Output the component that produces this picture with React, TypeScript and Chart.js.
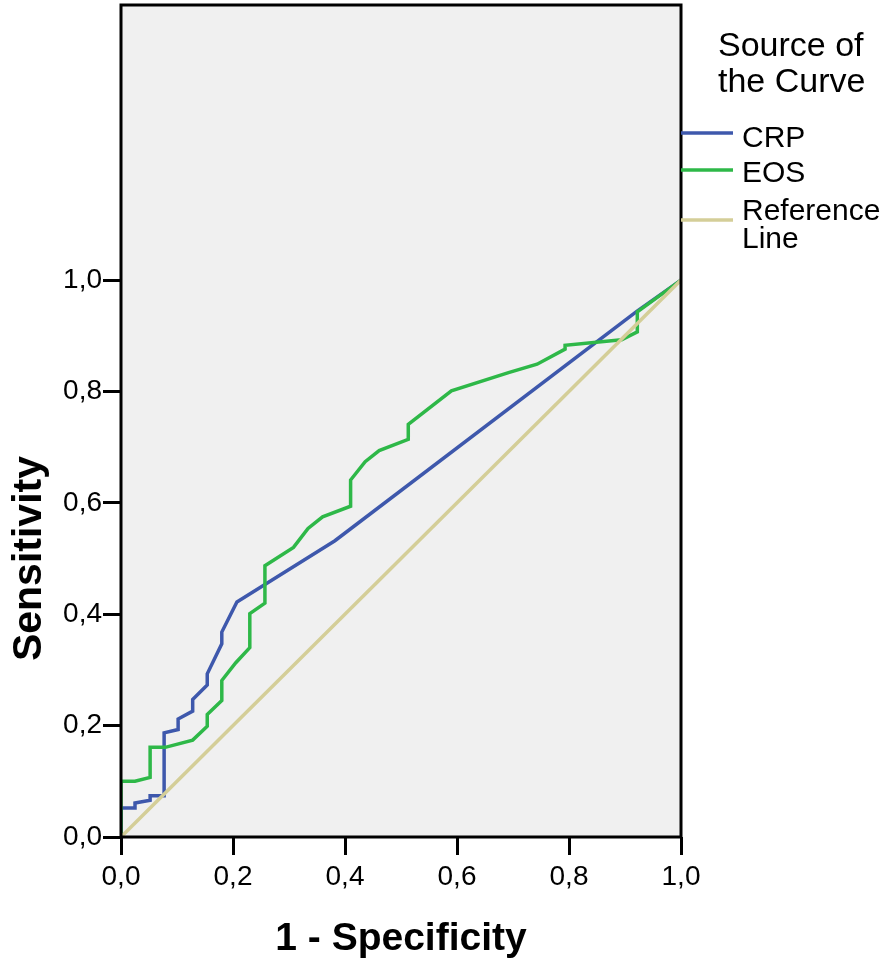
import React, { useEffect, useRef } from "react";
import { Chart, registerables } from "chart.js";

Chart.register(...registerables);

// ---- data ----
const crpX = [0, 0, 0.025, 0.025, 0.052, 0.052, 0.077, 0.077, 0.102, 0.102, 0.128, 0.128, 0.154, 0.154, 0.18, 0.18, 0.207, 0.382, 0.921, 1];
const crpY = [0, 0.052, 0.052, 0.061, 0.066, 0.074, 0.074, 0.187, 0.193, 0.212, 0.226, 0.247, 0.273, 0.293, 0.347, 0.368, 0.422, 0.532, 0.944, 1];

const eosX = [0, 0, 0.025, 0.052, 0.052, 0.079, 0.128, 0.154, 0.154, 0.18, 0.18, 0.205, 0.23, 0.23, 0.257, 0.257, 0.308, 0.334, 0.36, 0.41, 0.41, 0.436, 0.461, 0.513, 0.513, 0.59, 0.692, 0.743, 0.793, 0.793, 0.894, 0.922, 0.922, 1];
const eosY = [0, 0.1, 0.1, 0.107, 0.161, 0.161, 0.174, 0.199, 0.22, 0.245, 0.281, 0.313, 0.34, 0.401, 0.42, 0.487, 0.52, 0.554, 0.575, 0.594, 0.641, 0.674, 0.694, 0.714, 0.741, 0.801, 0.834, 0.849, 0.876, 0.883, 0.893, 0.907, 0.943, 1];

const refX = [0, 1];
const refY = [0, 1];

const tickValues = [0, 0.2, 0.4, 0.6, 0.8, 1.0];
const seriesNames = ["CRP", "EOS", "Reference Line"];
const seriesColors = ["#3e58ac", "#2eb848", "#d4ce98"];
const legendTitle = ["Source of", "the Curve"];
const xTitle = "1 - Specificity";
const yTitle = "Sensitivity";

const FONT = "'Liberation Sans', Arial, Helvetica, sans-serif";

const fmt = (v: number) => v.toFixed(1).replace(".", ",");
const toPts = (xs: number[], ys: number[]) => xs.map((x, i) => ({ x, y: ys[i] }));

const framePlugin = {
  id: "frame",
  beforeDraw(chart: any) {
    const { ctx, chartArea: a } = chart;
    ctx.save();
    ctx.fillStyle = "#f0f0f0";
    ctx.fillRect(a.left, a.top, a.right - a.left, a.bottom - a.top);
    ctx.restore();
  },
  afterDraw(chart: any) {
    const { ctx, chartArea: a, scales } = chart;
    ctx.save();
    ctx.strokeStyle = "#000";
    ctx.lineWidth = 3;
    ctx.strokeRect(a.left, a.top, a.right - a.left, a.bottom - a.top);

    // y axis title, centred on the 0..1 range
    const yMid = (scales.y.getPixelForValue(0) + scales.y.getPixelForValue(1)) / 2;
    ctx.save();
    ctx.translate(30, yMid);
    ctx.rotate(-Math.PI / 2);
    ctx.fillStyle = "#000";
    ctx.textAlign = "center";
    ctx.textBaseline = "middle";
    ctx.font = `bold 41px ${FONT}`;
    ctx.fillText(yTitle, 0, 0);
    ctx.restore();

    // legend
    ctx.fillStyle = "#000";
    ctx.textAlign = "left";
    ctx.textBaseline = "alphabetic";
    ctx.font = `34px ${FONT}`;
    ctx.fillText(legendTitle[0], 718, 56);
    ctx.fillText(legendTitle[1], 718, 92);

    const lineYs = [133, 170, 220];
    ctx.font = `30px ${FONT}`;
    const textRows: [string, number][][] = [
      [[seriesNames[0], 147]],
      [[seriesNames[1], 182]],
      [["Reference", 220], ["Line", 248]],
    ];
    for (let i = 0; i < 3; i++) {
      ctx.strokeStyle = seriesColors[i];
      ctx.lineWidth = 3.5;
      ctx.beginPath();
      ctx.moveTo(a.right, lineYs[i]);
      ctx.lineTo(733, lineYs[i]);
      ctx.stroke();
      for (const [t, y] of textRows[i]) ctx.fillText(t, 742, y);
    }
    ctx.restore();
  },
};

export default function App() {
  const ref = useRef<HTMLCanvasElement | null>(null);

  useEffect(() => {
    if (!ref.current) return;
    const chart = new Chart(ref.current, {
      type: "line",
      data: {
        datasets: [
          {
            label: seriesNames[2],
            data: toPts(refX, refY),
            borderColor: seriesColors[2],
            borderWidth: 3.5,
            pointRadius: 0,
            tension: 0,
            order: 0,
          },
          {
            label: seriesNames[1],
            data: toPts(eosX, eosY),
            borderColor: seriesColors[1],
            borderWidth: 3.5,
            pointRadius: 0,
            tension: 0,
            order: 1,
          },
          {
            label: seriesNames[0],
            data: toPts(crpX, crpY),
            borderColor: seriesColors[0],
            borderWidth: 3.5,
            pointRadius: 0,
            tension: 0,
            order: 2,
          },
        ],
      },
      options: {
        responsive: false,
        animation: false,
        parsing: false as any,
        layout: { padding: { top: 5, right: 202, bottom: 0, left: 0 } },
        plugins: { legend: { display: false }, tooltip: { enabled: false } },
        scales: {
          x: {
            type: "linear",
            min: 0,
            max: 1,
            afterBuildTicks: (s: any) => {
              s.ticks = tickValues.map((v) => ({ value: v }));
            },
            afterFit: (s: any) => {
              s.height = 127;
              s.paddingLeft = 0;
              s.paddingRight = 0;
            },
            border: { display: false },
            grid: { drawOnChartArea: false, drawTicks: true, tickLength: 18, tickWidth: 3, tickColor: "#000" },
            ticks: {
              autoSkip: false,
              maxRotation: 0,
              padding: 5,
              color: "#000",
              font: { size: 28, family: FONT },
              callback: (v: any) => fmt(Number(v)),
            },
            title: {
              display: true,
              text: xTitle,
              color: "#000",
              font: { size: 39, weight: "bold", family: FONT },
              padding: { top: 0, bottom: 1 },
            },
          },
          y: {
            type: "linear",
            min: 0,
            max: 1.494,
            afterBuildTicks: (s: any) => {
              s.ticks = tickValues.map((v) => ({ value: v }));
            },
            afterFit: (s: any) => {
              s.width = 121;
              s.paddingTop = 0;
              s.paddingBottom = 0;
            },
            border: { display: false },
            grid: { drawOnChartArea: false, drawTicks: true, tickLength: 18, tickWidth: 3, tickColor: "#000" },
            ticks: {
              autoSkip: false,
              padding: 1,
              color: "#000",
              font: { size: 28, family: FONT },
              callback: (v: any) => fmt(Number(v)),
            },
            title: { display: false },
          },
        },
      },
      plugins: [framePlugin],
    } as any);
    return () => chart.destroy();
  }, []);

  return (
    <div style={{ position: "absolute", left: 0, top: 0, width: 883, height: 964, background: "#fff" }}>
      <canvas ref={ref} width={883} height={964} style={{ width: 883, height: 964, display: "block" }} />
    </div>
  );
}
